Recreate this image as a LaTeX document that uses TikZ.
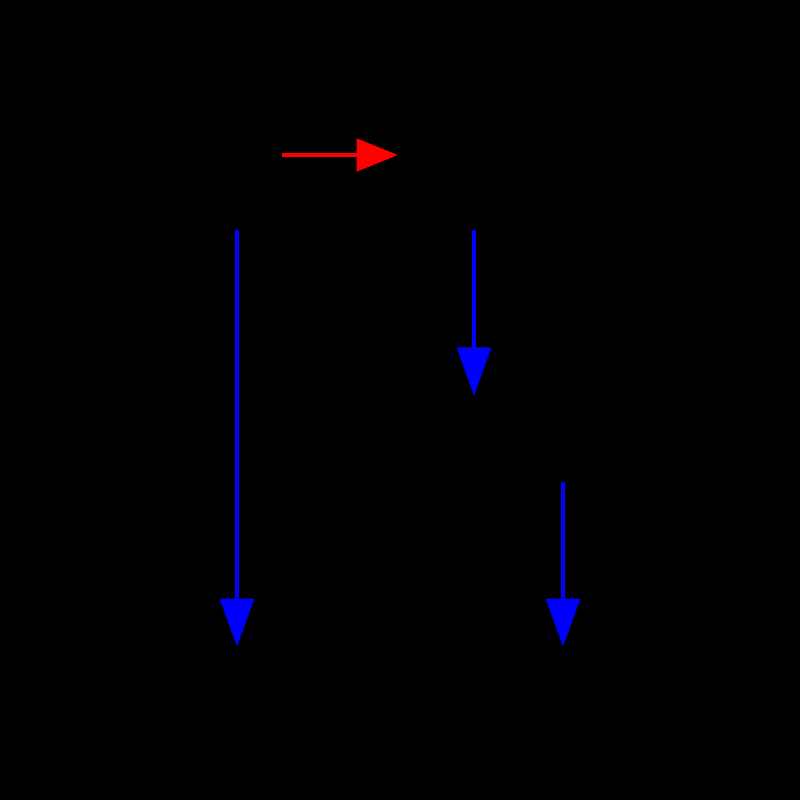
\documentclass[tikz,border=0pt]{standalone}
\usepackage{tikz}
\usetikzlibrary{arrows.meta}

\begin{document}
\begin{tikzpicture}[line width=1.15pt,
  redarrow/.style={draw=red,-{Triangle[length=11.8pt,width=9.2pt]}},
  bluearrow/.style={draw=blue,-{Triangle[length=13.8pt,width=9.6pt]}}]
\fill[black] (0,0) rectangle (8,-8);
\coordinate (r0) at (2.82,-1.55);
\coordinate (r1) at (3.98,-1.55);
\coordinate (l0) at (2.37,-2.30);
\coordinate (l1) at (2.37,-6.47);
\coordinate (m0) at (4.74,-2.30);
\coordinate (m1) at (4.74,-3.96);
\coordinate (k0) at (5.63,-4.82);
\coordinate (k1) at (5.63,-6.47);
\path (r0)	edge	[redarrow]	(r1)
(l0)	edge	[bluearrow]	(l1)
(m0)	edge	[bluearrow]	(m1)
(k0)	edge	[bluearrow]	(k1)
;\end{tikzpicture}
\end{document}
